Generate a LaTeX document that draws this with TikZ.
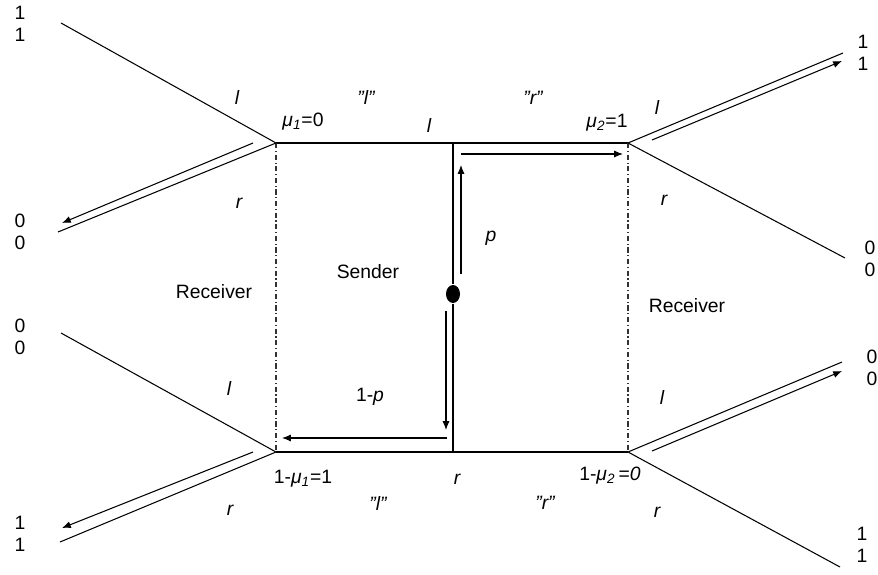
\documentclass[tikz,border=0pt]{standalone}
\usepackage{fontspec}
\setmainfont{Liberation Sans}
\usetikzlibrary{arrows.meta,shapes.geometric}

\begin{document}
\begin{tikzpicture}[
        every node/.style={font=\fontsize{11}{12.5}\selectfont},
        lbl/.style={font=\fontsize{11}{12.5}\selectfont\itshape},
        pay/.style={align=center, inner sep=0pt},
        move/.style={-{Latex[length=5pt,width=4pt]}},
        split/.style={line width=0.6pt, black!80, dash pattern=on 3pt off 1.5pt on 0.6pt off 1.5pt},
        line width=0.6pt]
    \useasboundingbox (0,0) rectangle (17.56,11.48);
    \coordinate (r1) at (5.52, 8.62);
    \coordinate (r2) at (12.56, 8.62);
    \coordinate (r3) at (5.52, 2.44);
    \coordinate (r4) at (12.56, 2.44);
    \coordinate (t) at (9.06, 8.62);
    \coordinate (b) at (9.06, 2.44);
    \node[ellipse, fill, minimum width=0.28cm, minimum height=0.36cm, inner sep=0pt] (s) at (9.06, 5.6) {};
    \coordinate (e1) at (1.22, 11.02);
    \coordinate (e2) at (1.16, 6.84);
    \coordinate (e3) at (1.22, 4.82);
    \coordinate (e4) at (1.2, 0.64);
    \coordinate (e5) at (16.86, 10.42);
    \coordinate (e6) at (16.9, 6.32);
    \coordinate (e7) at (16.84, 4.24);
    \coordinate (e8) at (16.8, 0.14);
    \node[pay] (o1) at (0.4, 11.0) {1\\1};
    \node[pay] (o2) at (0.4, 6.84) {0\\0};
    \node[pay] (o3) at (0.4, 4.74) {0\\0};
    \node[pay] (o4) at (0.4, 0.8) {1\\1};
    \node[pay] (o5) at (17.26, 10.42) {1\\1};
    \node[pay] (o6) at (17.4, 6.3) {0\\0};
    \node[pay] (o7) at (17.44, 4.12) {0\\0};
    \node[pay] (o8) at (17.24, 0.58) {1\\1};
    \draw (r1) -- (r2);
    \draw (r3) -- (r4);
    \draw (t) -- (s) -- (b);
    \draw[split] (r1) -- (r3);
    \draw[split] (r2) -- (r4);
    \draw (e1) -- (r1) -- (e2);
    \draw (e3) -- (r3) -- (e4);
    \draw (e5) -- (r2) -- (e6);
    \draw (e7) -- (r4) -- (e8);
    \coordinate (a1) at (5.06, 8.62);
    \coordinate (a2) at (1.24, 7.02);
    \coordinate (a3) at (5.06, 2.44);
    \coordinate (a4) at (1.24, 0.92);
    \coordinate (a5) at (13.04, 8.68);
    \coordinate (a6) at (16.84, 10.26);
    \coordinate (a7) at (13.04, 2.46);
    \coordinate (a8) at (16.84, 4.06);
    \draw[move] (a1) -- (a2);
    \draw[move] (a3) -- (a4);
    \draw[move] (a5) -- (a6);
    \draw[move] (a7) -- (a8);
    \coordinate (u1) at (9.22, 6.0);
    \coordinate (u2) at (9.22, 8.18);
    \coordinate (u3) at (9.22, 8.4);
    \coordinate (u4) at (12.46, 8.4);
    \coordinate (d1) at (8.92, 5.26);
    \coordinate (d2) at (8.92, 2.88);
    \coordinate (d3) at (8.94, 2.72);
    \coordinate (d4) at (5.64, 2.72);
    \draw[move] (u1) -- (u2);
    \draw[move] (u3) -- (u4);
    \draw[move] (d1) -- (d2);
    \draw[move] (d3) -- (d4);
    \node[lbl] (l1) at (4.74, 9.54) {l};
    \node[lbl] (l2) at (4.78, 7.42) {r};
    \node[lbl] (l3) at (4.58, 3.72) {l};
    \node[lbl] (l4) at (4.6, 1.28) {r};
    \node[lbl] (l5) at (13.14, 9.34) {l};
    \node[lbl] (l6) at (13.28, 7.48) {r};
    \node[lbl] (l7) at (13.24, 3.54) {l};
    \node[lbl] (l8) at (13.14, 1.24) {r};
    \node[lbl] (q1) at (7.32, 9.54) {"l"};
    \node[lbl] (q2) at (10.66, 9.52) {"r"};
    \node[lbl] (q3) at (7.56, 1.42) {"l"};
    \node[lbl] (q4) at (10.9, 1.42) {"r"};
    \node[lbl] (m1) at (8.58, 8.98) {l};
    \node[lbl] (m2) at (9.14, 1.9) {r};
    \node (mu1) at (6.06, 9.04) {\textit{μ\textsubscript{1}}=0};
    \node (mu2) at (12.14, 9.02) {\textit{μ\textsubscript{2}}=1};
    \node (mu3) at (6.06, 1.9) {1-\textit{μ\textsubscript{1}}=1};
    \node (mu4) at (12.2, 1.96) {1-\textit{μ\textsubscript{2}}\,=\textit{0}};
    \node[lbl] (p) at (9.82, 6.72) {p};
    \node (q) at (7.4, 3.54) {1-\textit{p}};
    \node (snd) at (7.36, 6.04) {Sender};
    \node (rc1) at (4.28, 5.64) {Receiver};
    \node (rc2) at (13.74, 5.36) {Receiver};
\end{tikzpicture}
\end{document}
